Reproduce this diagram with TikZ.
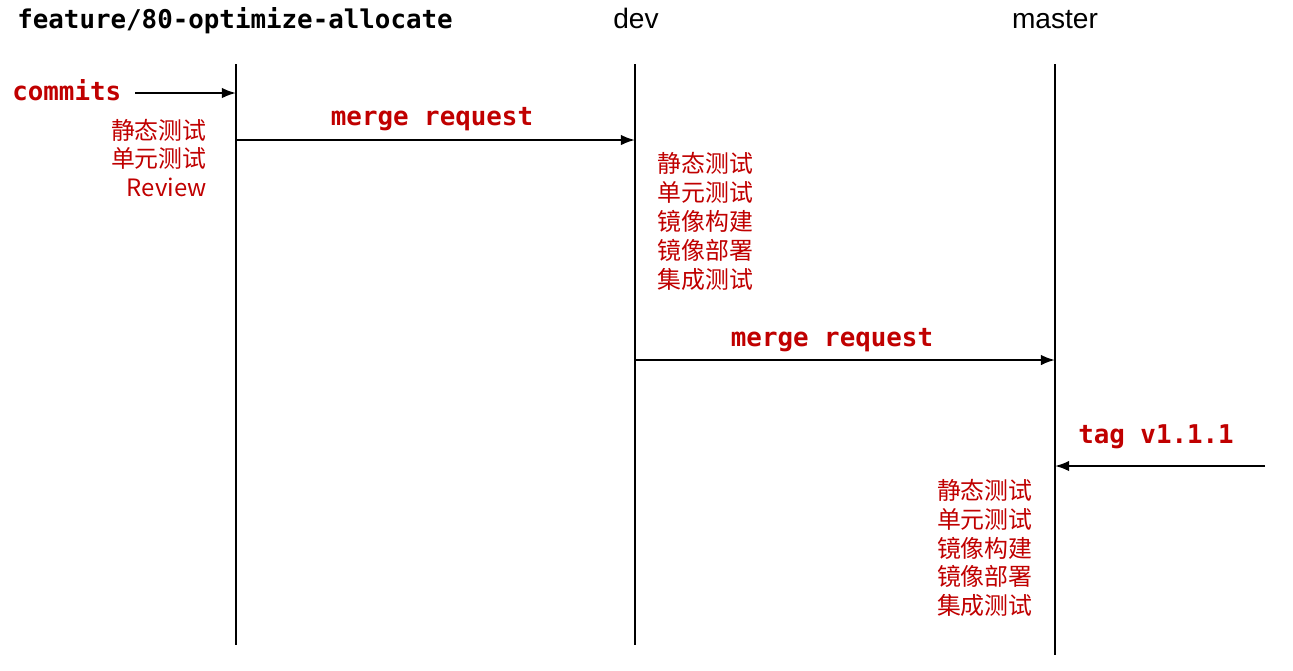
\documentclass[tikz,border=0pt]{standalone}
\usepackage{fontspec}
\setmainfont{Liberation Sans}
\newfontfamily\cjk{Noto Sans CJK SC}
\newfontfamily\codefont{DejaVu Sans Mono}
\usetikzlibrary{arrows.meta}
\definecolor{labelred}{RGB}{192,0,0}

\begin{document}
\begin{tikzpicture}[x=0.02cm,y=-0.02cm,
  branch/.style={line width=1.2pt},
  arr/.style={line width=1.2pt,-{Latex[length=8pt,width=6pt]}},
  head/.style={inner sep=0pt,font=\fontsize{16}{19}\selectfont},
  code/.style={inner sep=0pt,text=labelred,font=\codefont\bfseries\fontsize{14.7}{17}\selectfont},
  steps/.style={inner sep=0pt,text=labelred,font=\cjk\fontsize{13.6}{16.4}\selectfont}]
  \useasboundingbox[fill=white] (0,0) rectangle (1293,670);

  % Branch headers
  \node[head,anchor=base west,font=\codefont\bfseries\fontsize{14.7}{17}\selectfont] (feat) at (17,28) {feature/80-optimize-allocate};
  \node[head,anchor=base] (dev) at (636,28) {dev};
  \node[head,anchor=base] (master) at (1055,28) {master};

  % Branch lines
  \coordinate (ftop) at (236,64);
  \coordinate (fbot) at (236,645);
  \coordinate (dtop) at (635,64);
  \coordinate (dbot) at (635,645);
  \coordinate (mtop) at (1055,64);
  \coordinate (mbot) at (1055,655);
  \draw[branch] (ftop) -- (fbot);
  \draw[branch] (dtop) -- (dbot);
  \draw[branch] (mtop) -- (mbot);

  % Commits into feature
  \node[code,anchor=base west] (commits) at (12,100) {commits};
  \coordinate (cstart) at (135,93);
  \coordinate (cend) at (236,93);
  \draw[arr] (cstart) -- (cend);
  \node[steps,anchor=east,align=right] (fsteps) at (207,158) {静态测试\\单元测试\\Review};

  % Merge feature -> dev
  \coordinate (mr1start) at (236,140);
  \coordinate (mr1end) at (635,140);
  \draw[arr] (mr1start) -- (mr1end);
  \node[code,anchor=base] (mr1) at (432,125) {merge request};
  \node[steps,anchor=west,align=left] (dsteps) at (657,221.5) {静态测试\\单元测试\\镜像构建\\镜像部署\\集成测试};

  % Merge dev -> master
  \coordinate (mr2start) at (635,360);
  \coordinate (mr2end) at (1055,360);
  \draw[arr] (mr2start) -- (mr2end);
  \node[code,anchor=base] (mr2) at (832,346) {merge request};

  % Tag on master
  \coordinate (tstart) at (1265,466);
  \coordinate (tend) at (1055,466);
  \draw[arr] (tstart) -- (tend);
  \node[code,anchor=base] (tag) at (1156,443) {tag v1.1.1};
  \node[steps,anchor=east,align=right] (msteps) at (1033,548) {静态测试\\单元测试\\镜像构建\\镜像部署\\集成测试};
\end{tikzpicture}
\end{document}
